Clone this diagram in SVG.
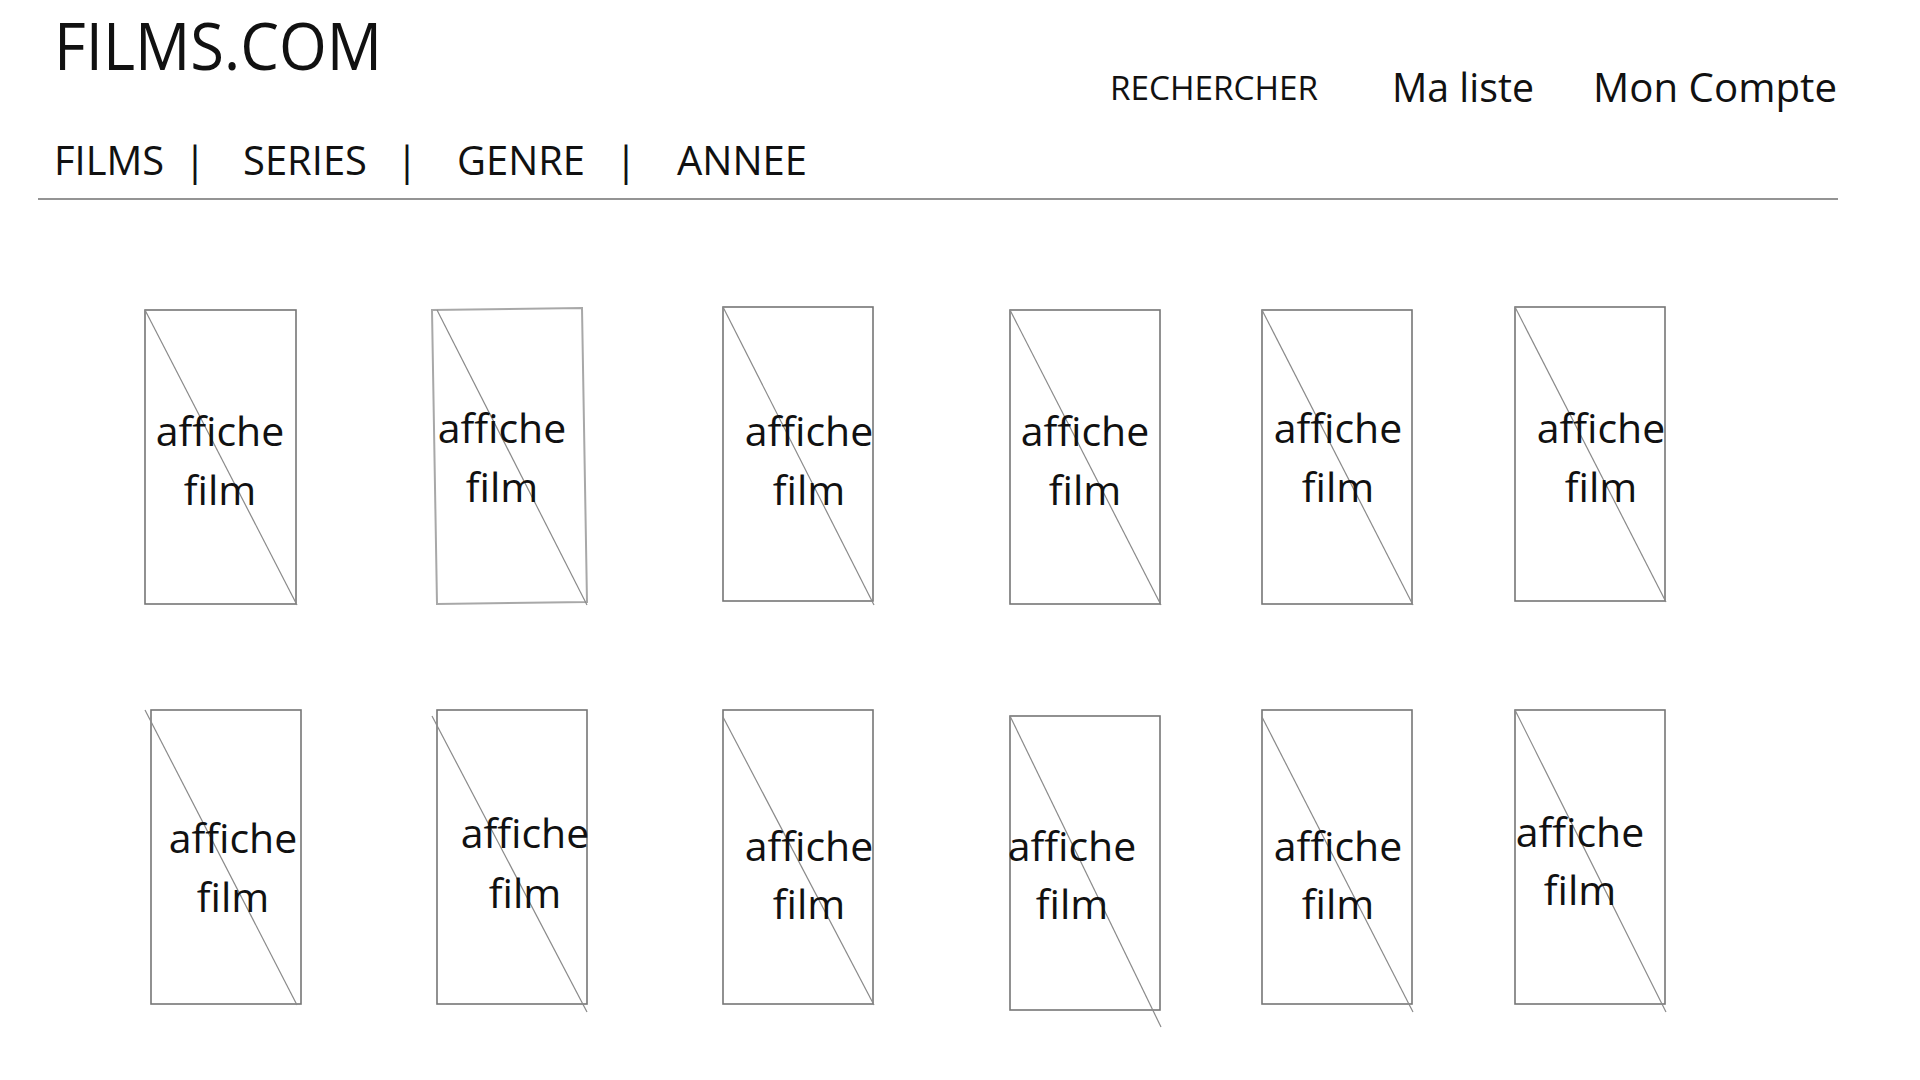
<svg xmlns="http://www.w3.org/2000/svg" width="1920" height="1080" viewBox="0 0 1920 1080">
<style>
text{font-family:"Open Sans","Noto Sans","Liberation Sans",sans-serif;fill:#111}
.poster{fill:#fff;stroke:#767676;stroke-width:1.6}
.poster2{fill:#fff;stroke:#a8a8a8;stroke-width:2}
.diag{stroke:#8a8a8a;stroke-width:1.2;fill:none}
.lbl{font-size:41px;text-anchor:middle}
.nav{font-size:41px}
.sep{font-size:41px;text-anchor:middle}
</style>
<rect width="1920" height="1080" fill="#fff"/>
<g id="header">
<text x="54" y="70" font-size="66" textLength="328" lengthAdjust="spacingAndGlyphs">FILMS.COM</text>
<text x="1110" y="100" font-size="33" textLength="208" lengthAdjust="spacingAndGlyphs">RECHERCHER</text>
<text x="1392" y="102" font-size="41" textLength="142" lengthAdjust="spacingAndGlyphs">Ma liste</text>
<text x="1593" y="102" font-size="41" textLength="244" lengthAdjust="spacingAndGlyphs">Mon Compte</text>
</g>
<g id="nav">
<text class="nav" x="54" y="175" textLength="110" lengthAdjust="spacingAndGlyphs">FILMS</text>
<text class="sep" x="195" y="175">|</text>
<text class="nav" x="243" y="175" textLength="124" lengthAdjust="spacingAndGlyphs">SERIES</text>
<text class="sep" x="407" y="175">|</text>
<text class="nav" x="457" y="175" textLength="128" lengthAdjust="spacingAndGlyphs">GENRE</text>
<text class="sep" x="626" y="175">|</text>
<text class="nav" x="677" y="175" textLength="130" lengthAdjust="spacingAndGlyphs">ANNEE</text>
<line x1="38" y1="199" x2="1838" y2="199" stroke="#707070" stroke-width="1.6"/>
</g>
<g id="poster-1">
<rect class="poster" x="145" y="310" width="151" height="294"/>
<line class="diag" x1="145" y1="310" x2="297" y2="605"/>
<text class="lbl" x="220" y="446">affiche</text>
<text class="lbl" x="220" y="505">film</text>
</g>
<g id="poster-2">
<polygon class="poster2" points="432,310 582,308 587,602 437,604"/>
<line class="diag" x1="437" y1="310" x2="587" y2="605"/>
<text class="lbl" x="502" y="443">affiche</text>
<text class="lbl" x="502" y="502">film</text>
</g>
<g id="poster-3">
<rect class="poster" x="723" y="307" width="150" height="294"/>
<line class="diag" x1="723" y1="307" x2="874" y2="605"/>
<text class="lbl" x="809" y="446">affiche</text>
<text class="lbl" x="809" y="505">film</text>
</g>
<g id="poster-4">
<rect class="poster" x="1010" y="310" width="150" height="294"/>
<line class="diag" x1="1010" y1="310" x2="1161" y2="605"/>
<text class="lbl" x="1085" y="446">affiche</text>
<text class="lbl" x="1085" y="505">film</text>
</g>
<g id="poster-5">
<rect class="poster" x="1262" y="310" width="150" height="294"/>
<line class="diag" x1="1262" y1="310" x2="1413" y2="605"/>
<text class="lbl" x="1338" y="443">affiche</text>
<text class="lbl" x="1338" y="502">film</text>
</g>
<g id="poster-6">
<rect class="poster" x="1515" y="307" width="150" height="294"/>
<line class="diag" x1="1515" y1="307" x2="1666" y2="602"/>
<text class="lbl" x="1601" y="443">affiche</text>
<text class="lbl" x="1601" y="502">film</text>
</g>
<g id="poster-7">
<rect class="poster" x="151" y="710" width="150" height="294"/>
<line class="diag" x1="145" y1="710" x2="297" y2="1005"/>
<text class="lbl" x="233" y="853">affiche</text>
<text class="lbl" x="233" y="912">film</text>
</g>
<g id="poster-8">
<rect class="poster" x="437" y="710" width="150" height="294"/>
<line class="diag" x1="432" y1="716" x2="587" y2="1012"/>
<text class="lbl" x="525" y="848">affiche</text>
<text class="lbl" x="525" y="908">film</text>
</g>
<g id="poster-9">
<rect class="poster" x="723" y="710" width="150" height="294"/>
<line class="diag" x1="723" y1="717" x2="874" y2="1005"/>
<text class="lbl" x="809" y="861">affiche</text>
<text class="lbl" x="809" y="919">film</text>
</g>
<g id="poster-10">
<rect class="poster" x="1010" y="716" width="150" height="294"/>
<line class="diag" x1="1010" y1="716" x2="1161" y2="1027"/>
<text class="lbl" x="1072" y="861">affiche</text>
<text class="lbl" x="1072" y="919">film</text>
</g>
<g id="poster-11">
<rect class="poster" x="1262" y="710" width="150" height="294"/>
<line class="diag" x1="1262" y1="717" x2="1413" y2="1012"/>
<text class="lbl" x="1338" y="861">affiche</text>
<text class="lbl" x="1338" y="919">film</text>
</g>
<g id="poster-12">
<rect class="poster" x="1515" y="710" width="150" height="294"/>
<line class="diag" x1="1515" y1="710" x2="1666" y2="1012"/>
<text class="lbl" x="1580" y="847">affiche</text>
<text class="lbl" x="1580" y="905">film</text>
</g>
<g id="connectors"></g>
</svg>
